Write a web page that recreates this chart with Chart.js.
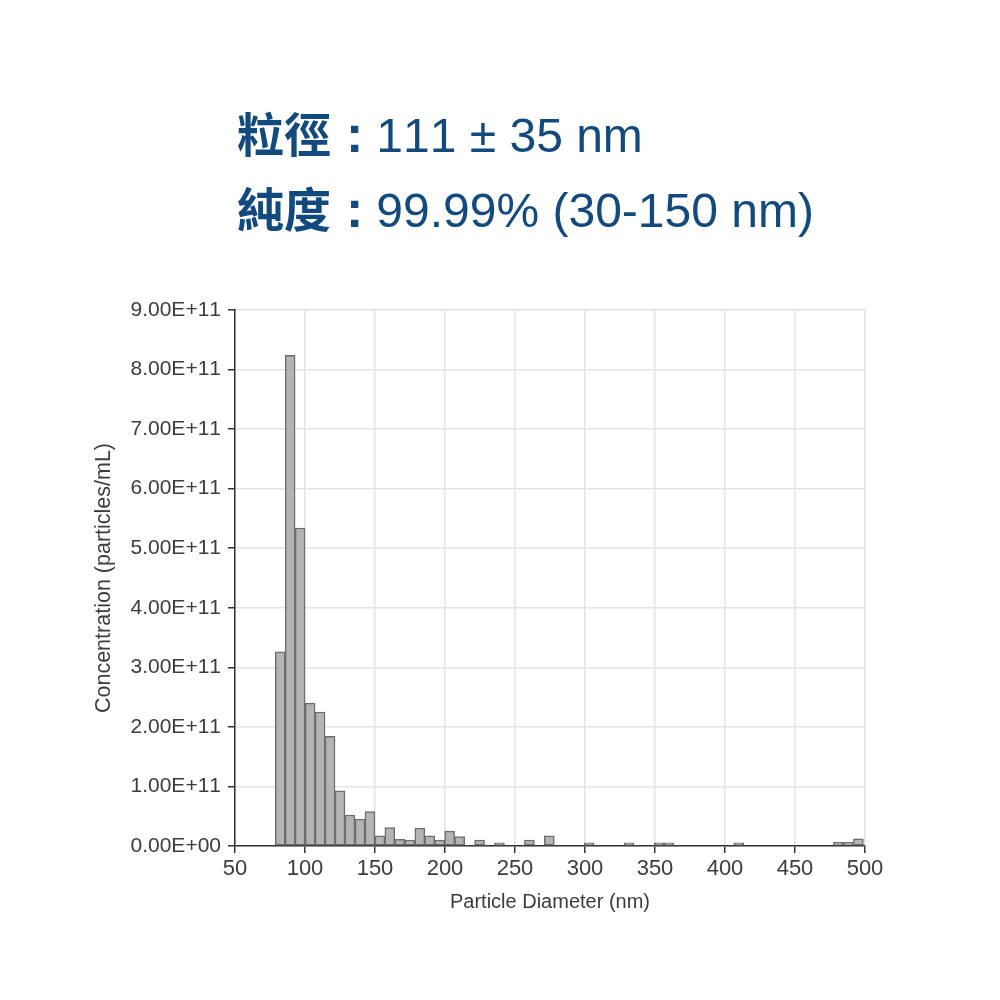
<!DOCTYPE html>
<html>
<head>
<meta charset="utf-8">
<script src="https://cdn.jsdelivr.net/npm/chart.js@4.4.1/dist/chart.umd.min.js"></script>
<style>
  html, body { margin: 0; padding: 0; background: #ffffff; }
  body { width: 1000px; height: 1000px; position: relative; overflow: hidden; }
  #c { position: absolute; left: 0; top: 0; }
  .head { position: absolute; left: 237px; white-space: nowrap; color: #124a7e; font-kerning: none;
          font-family: "Liberation Sans", Arial, sans-serif; font-size: 48px; line-height: 48px; }
  .cjk { font-family: "Noto Sans CJK TC", "Noto Sans CJK SC", sans-serif; font-weight: 700; font-size: 47px; }
  .col { font-family: "Liberation Sans", Arial, sans-serif; font-weight: 700; font-size: 52px;
         margin-left: 15px; margin-right: 13px; }
</style>
</head>
<body>
<canvas id="c" width="1000" height="1000"></canvas>
<div class="head" id="l1" style="top:108px;"><span class="cjk">粒徑</span><span class="col">:</span>111 ± 35 nm</div>
<div class="head" id="l2" style="top:183px;"><span class="cjk">純度</span><span class="col">:</span>99.99% (30-150 nm)</div>
<script>
// Bin centres (nm) of the size histogram
const binCentres = [
  82.3, 89.4, 96.5, 103.7, 110.8, 117.9, 125.0, 132.1, 139.3, 146.4,
  153.5, 160.6, 167.7, 174.9, 182.0, 189.1, 196.2, 203.3, 210.5, 217.6,
  224.7, 231.8, 238.9, 246.1, 253.2, 260.3, 267.4, 274.5, 281.7, 288.8,
  295.9, 303.0, 310.1, 317.3, 324.4, 331.5, 338.6, 345.7, 352.9, 360.0,
  367.1, 374.2, 381.3, 388.5, 395.6, 402.7, 409.8, 416.9, 424.1, 431.2,
  438.3, 445.4, 452.5, 459.7, 466.8, 473.9, 481.0, 488.1, 495.3
];
// Concentration (particles/mL) for each bin
const concentration = [
  3.26e11, 8.24e11, 5.34e11, 2.40e11, 2.25e11, 1.84e11, 0.925e11, 0.52e11, 0.45e11, 0.58e11,
  0.17e11, 0.31e11, 0.11e11, 0.10e11, 0.30e11, 0.17e11, 0.10e11, 0.25e11, 0.16e11, 0,
  0.10e11, 0, 0.055e11, 0, 0, 0.10e11, 0, 0.17e11, 0, 0,
  0, 0.055e11, 0, 0, 0, 0.055e11, 0, 0, 0.055e11, 0.055e11,
  0, 0, 0, 0, 0, 0, 0.055e11, 0, 0, 0,
  0, 0, 0, 0, 0, 0, 0.06e11, 0.06e11, 0.12e11
];
const yTickLabels = ['0.00E+00','1.00E+11','2.00E+11','3.00E+11','4.00E+11','5.00E+11','6.00E+11','7.00E+11','8.00E+11','9.00E+11'];
const xTitle = 'Particle Diameter (nm)';
const yTitle = 'Concentration (particles/mL)';

const FONT = '"Liberation Sans", Arial, sans-serif';
const TXT = '#3c3c3c';
const GRID = '#e4e4e4';
const AXIS = '#333333';

const points = binCentres.map((x, i) => ({ x: x, y: concentration[i] }));

const noKerning = {
  id: 'noKerning',
  beforeInit(chart) { chart.ctx.fontKerning = 'none'; },
  beforeUpdate(chart) { chart.ctx.fontKerning = 'none'; },
  beforeDraw(chart) { chart.ctx.fontKerning = 'none'; }
};

new Chart(document.getElementById('c'), {
  type: 'bar',
  data: {
    datasets: [{
      data: points,
      backgroundColor: '#b4b4b4',
      borderColor: '#6e6e6e',
      borderWidth: 1.5,
      borderSkipped: false,
      barPercentage: 1.0,
      categoryPercentage: 1.0
    }]
  },
  plugins: [noKerning],
  options: {
    responsive: false,
    devicePixelRatio: 1,
    animation: false,
    layout: { padding: { left: 0, right: 135, top: 310, bottom: 0 } },
    plugins: { legend: { display: false }, tooltip: { enabled: false } },
    scales: {
      x: {
        type: 'linear',
        min: 50, max: 500,
        offset: false,
        ticks: { stepSize: 50, autoSkip: false, maxRotation: 0, color: TXT, padding: 3,
                 font: { family: FONT, size: 22 } },
        grid: { color: GRID, lineWidth: 1.5, offset: false, drawTicks: true,
                tickLength: 7, tickColor: AXIS, tickWidth: 1.5 },
        border: { color: AXIS, width: 1.5 },
        title: { display: true, text: xTitle, color: TXT,
                 font: { family: FONT, size: 20 }, padding: { top: 4, bottom: 86 } },
        afterFit: (s) => { s.height = 154; }
      },
      y: {
        min: 0, max: 9e11,
        ticks: { stepSize: 1e11, color: TXT, padding: 7,
                 font: { family: FONT, size: 21 },
                 callback: (v, i) => yTickLabels[i] },
        grid: { color: GRID, lineWidth: 1.5, drawTicks: true,
                tickLength: 7, tickColor: AXIS, tickWidth: 1.5 },
        border: { color: AXIS, width: 1.5 },
        title: { display: true, text: yTitle, color: TXT,
                 font: { family: FONT, size: 21.5 }, padding: { top: 91, bottom: 0 } },
        afterFit: (s) => { s.width = 235; }
      }
    }
  }
});
</script>
</body>
</html>
